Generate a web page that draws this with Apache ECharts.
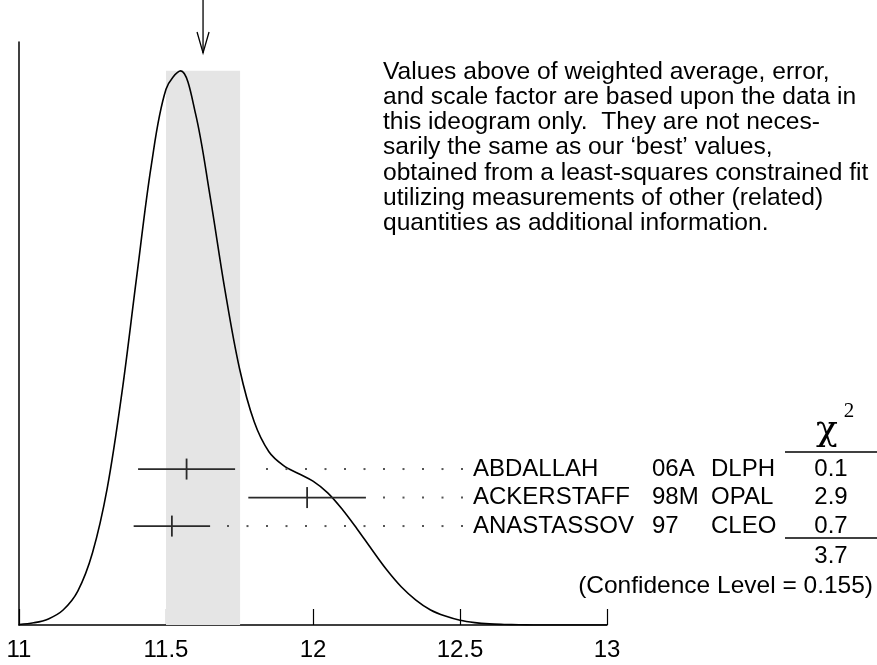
<!DOCTYPE html>
<html><head><meta charset="utf-8">
<script src="https://cdn.jsdelivr.net/npm/echarts@6/dist/echarts.min.js"></script>
<style>html,body{margin:0;padding:0;background:#fff}#c{width:877px;height:665px}</style>
</head><body><div id="c"></div>
<script>
// ---- data ----
const curveX = [11.00, 11.05, 11.10, 11.15, 11.20, 11.25, 11.30, 11.35, 11.40, 11.45,
                11.50, 11.55, 11.60, 11.65, 11.70, 11.75, 11.80, 11.85, 11.90, 11.95,
                12.00, 12.05, 12.10, 12.15, 12.20, 12.25, 12.30, 12.35, 12.40, 12.45,
                12.50, 12.55, 12.60, 12.65, 12.70, 12.75, 12.80, 12.85, 12.90, 12.95, 13.00];
const curveY = [0.001, 0.004, 0.011, 0.027, 0.061, 0.130, 0.246, 0.418, 0.626, 0.828,
                0.965, 0.998, 0.922, 0.772, 0.605, 0.462, 0.366, 0.312, 0.287, 0.273,
                0.259, 0.238, 0.208, 0.173, 0.136, 0.100, 0.069, 0.045, 0.027, 0.016,
                0.0085, 0.0043, 0.002, 0.001, 0.0004, 0.0001, 0, 0, 0, 0, 0];
const names = ['ABDALLAH', 'ACKERSTAFF', 'ANASTASSOV'];
const refs = ['06A', '98M', '97'];
const experiments = ['DLPH', 'OPAL', 'CLEO'];
const values = [11.57, 11.98, 11.52];
const errors = [0.165, 0.20, 0.13];
const chi2 = ['0.1', '2.9', '0.7'];
const chi2Total = '3.7';
const confidenceLevel = '0.155';
const weightedAvg = 11.626;
const weightedErr = 0.126;
const xTicks = [11, 11.5, 12, 12.5, 13];
const noteLines = [
  'Values above of weighted average, error,',
  'and scale factor are based upon the data in',
  'this ideogram only.  They are not neces-',
  'sarily the same as our \u2018best\u2019 values,',
  'obtained from a least-squares constrained fit',
  'utilizing measurements of other (related)',
  'quantities as additional information.'
];

// ---- layout ----
const FONT = '"Liberation Sans", Arial, Helvetica, sans-serif';
const gridTop = 42;
const nameX = 473, refX = 652, expX = 711, chiX = 831;
const dotStep = 19.5;

const chart = echarts.init(document.getElementById('c'), null, {renderer: 'canvas'});
const peak = Math.max.apply(null, curveY);

const option = {
  animation: false,
  backgroundColor: '#fff',
  grid: {left: 19, right: 270, top: gridTop, bottom: 40},
  xAxis: {
    type: 'value', min: xTicks[0], max: xTicks[xTicks.length - 1], interval: 0.5,
    axisLine: {lineStyle: {color: '#000', width: 1.5}},
    axisTick: {inside: true, length: 16, lineStyle: {color: '#000', width: 1.2}},
    axisLabel: {color: '#000', fontFamily: FONT, fontSize: 24, margin: 13,
      formatter: v => String(v)},
    splitLine: {show: false}
  },
  yAxis: [
    {type: 'value', min: 0, max: 1.05,
     axisLine: {show: true, lineStyle: {color: '#000', width: 1.5}},
     axisTick: {show: false}, axisLabel: {show: false}, splitLine: {show: false}},
    {type: 'value', inverse: true, min: -14.98, max: 5.47, show: false}
  ],
  series: [
    {
      type: 'line', yAxisIndex: 0, smooth: 0.35, symbol: 'none', z: 3,
      data: curveX.map((x, i) => [x, curveY[i]]),
      lineStyle: {color: '#000', width: 1.6},
      markArea: {
        silent: true,
        itemStyle: {color: '#e5e5e5'},
        data: [[{xAxis: weightedAvg - weightedErr, yAxis: 0},
                {xAxis: weightedAvg + weightedErr, yAxis: peak}]]
      }
    },
    {
      type: 'custom', yAxisIndex: 1, clip: false, z: 4,
      data: values.map((v, i) => [v, i, errors[i]]),
      renderItem: function (params, api) {
        const i = params.dataIndex;
        const v = api.value(0), row = api.value(1), e = api.value(2);
        const pc = api.coord([v, row]);
        const pl = api.coord([v - e, row]);
        const ph = api.coord([v + e, row]);
        const y = pc[1];
        const stroke = '#2a2a2a';
        const ch = [
          {type: 'line', shape: {x1: pl[0], y1: y, x2: ph[0], y2: y}, style: {stroke: stroke, lineWidth: 1.8}},
          {type: 'line', shape: {x1: pc[0], y1: y - 10.5, x2: pc[0], y2: y + 10.5}, style: {stroke: stroke, lineWidth: 1.8}}
        ];
        for (let dx = nameX - 11; dx > ph[0] + 14; dx -= dotStep) {
          ch.push({type: 'rect', shape: {x: dx - 1, y: y - 1, width: 2, height: 2}, style: {fill: '#555'}});
        }
        const t = (txt, x, align) => ({type: 'text', x: x, y: y,
          style: {text: txt, font: '24px ' + FONT, fill: '#000', align: align, verticalAlign: 'middle'}});
        ch.push(t(names[i], nameX, 'left'));
        ch.push(t(refs[i], refX, 'left'));
        ch.push(t(experiments[i], expX, 'left'));
        ch.push(t(chi2[i], chiX, 'center'));
        return {type: 'group', children: ch};
      }
    },
    {
      type: 'custom', yAxisIndex: 0, clip: false, z: 5,
      data: [[weightedAvg, 0]],
      renderItem: function (params, api) {
        const p = api.coord([api.value(0), 0]);
        const x = p[0];
        return {type: 'group', children: [
          {type: 'line', shape: {x1: x, y1: 0, x2: x, y2: gridTop + 11}, style: {stroke: '#000', lineWidth: 1.3}},
          {type: 'polyline', shape: {points: [[x - 6, gridTop - 10], [x, gridTop + 11], [x + 6, gridTop - 10]]},
           style: {stroke: '#000', lineWidth: 1.3, fill: null}}
        ]};
      }
    }
  ],
  graphic: [
    {type: 'text', left: 383, top: 59.5, silent: true,
     style: {text: noteLines.join('\n'), font: '24.6px ' + FONT, lineHeight: 25.2, fill: '#000'}},
    {type: 'text', x: 827, y: 431, silent: true,
     style: {text: '\u03c7', font: '36px "DejaVu Serif", "Liberation Serif", serif', fill: '#000', align: 'center', verticalAlign: 'middle'}},
    {type: 'text', x: 849, y: 411, silent: true,
     style: {text: '2', font: '21px "Liberation Serif", "DejaVu Serif", serif', fill: '#000', align: 'center', verticalAlign: 'middle'}},
    {type: 'line', silent: true, shape: {x1: 785, y1: 452, x2: 877, y2: 452}, style: {stroke: '#000', lineWidth: 1.5}},
    {type: 'line', silent: true, shape: {x1: 785, y1: 538, x2: 877, y2: 538}, style: {stroke: '#000', lineWidth: 1.5}},
    {type: 'text', x: chiX, y: 556, silent: true,
     style: {text: chi2Total, font: '24px ' + FONT, fill: '#000', align: 'center', verticalAlign: 'middle'}},
    {type: 'text', x: 873, y: 586, silent: true,
     style: {text: '(Confidence Level = ' + confidenceLevel + ')', font: '24.5px ' + FONT, fill: '#000', align: 'right', verticalAlign: 'middle'}}
  ]
};
chart.setOption(option);
</script>
</body></html>
